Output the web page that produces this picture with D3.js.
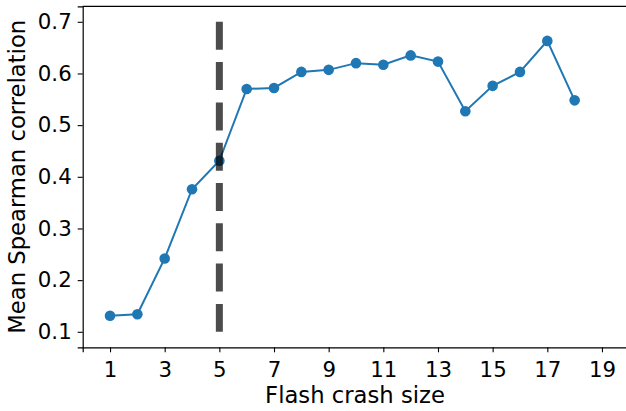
<!DOCTYPE html>
<html>
<head>
<meta charset="utf-8">
<script src="https://cdn.jsdelivr.net/npm/d3@7"></script>
<style>
html,body{margin:0;padding:0;background:#fff;}
svg{display:block;font-family:"DejaVu Sans",sans-serif;}
</style>
</head>
<body>
<svg id="chart" width="626" height="411"></svg>
<script>
const sizes = [1,2,3,4,5,6,7,8,9,10,11,12,13,14,15,16,17,18];
const meanCorr = [0.131,0.134,0.242,0.376,0.431,0.570,0.572,0.603,0.607,0.620,0.617,0.635,0.623,0.527,0.576,0.603,0.663,0.548];
const xTicks = [1,3,5,7,9,11,13,15,17,19];
const yTicks = [0.1,0.2,0.3,0.4,0.5,0.6,0.7];
const thresholdX = 5;
const thresholdRange = [0.1,0.7];

(function(){
const svg = d3.select("#chart");
const mL = 82.7, mT = 6.3, mR = 629.3, mB = 347.3;
const x = d3.scaleLinear().domain([0,20]).range([mL,mR]);
const y = d3.scaleLinear().domain([0.07,0.73]).range([mB,mT]);

const xAxis = svg.append("g").attr("transform",`translate(0,${mB})`)
  .call(d3.axisBottom(x).tickValues(xTicks).tickFormat(d3.format("d")).tickSizeOuter(0).tickSize(5).tickPadding(9.5));
const yAxis = svg.append("g").attr("transform",`translate(${mL},0)`)
  .call(d3.axisLeft(y).tickValues(yTicks).tickFormat(d3.format(".1f")).tickSizeOuter(0).tickSize(5).tickPadding(6));
[xAxis,yAxis].forEach(a=>{
  a.attr("font-size",null).attr("font-family",null);
  a.selectAll("text").attr("font-size",21.3).attr("font-family","DejaVu Sans").attr("fill","#000");
  a.selectAll("line").attr("stroke","#000").attr("stroke-width",1.1);
  a.select(".domain").attr("stroke","#000").attr("stroke-width",1.2);
});
xAxis.selectAll("text").attr("dy","0.71em");
svg.append("line").attr("x1",mL).attr("x2",mR).attr("y1",mT).attr("y2",mT)
  .attr("stroke","#000").attr("stroke-width",1.2);

const pts = sizes.map((s,i)=>[s,meanCorr[i]]);
svg.append("path").datum(pts)
  .attr("fill","none").attr("stroke","#1f77b4").attr("stroke-width",2)
  .attr("d",d3.line().x(d=>x(d[0])).y(d=>y(d[1])));
svg.selectAll("circle.pt").data(pts).enter()
  .append("circle").attr("class","pt")
  .attr("cx",d=>x(d[0])).attr("cy",d=>y(d[1])).attr("r",5.3).attr("fill","#1f77b4");

svg.append("line")
  .attr("x1",x(thresholdX)).attr("x2",x(thresholdX))
  .attr("y1",y(thresholdRange[1])).attr("y2",y(thresholdRange[0]))
  .attr("stroke","#000").attr("stroke-opacity",0.7).attr("stroke-width",7)
  .attr("stroke-dasharray","28,12.3");

svg.append("text").attr("x",355).attr("y",403.3).attr("text-anchor","middle")
  .attr("font-size",22.7).text("Flash crash size");
svg.append("text").attr("transform",`translate(25,${(mT+mB)/2}) rotate(-90)`)
  .attr("text-anchor","middle").attr("font-size",22.7).text("Mean Spearman correlation");
})();
</script>
</body>
</html>
